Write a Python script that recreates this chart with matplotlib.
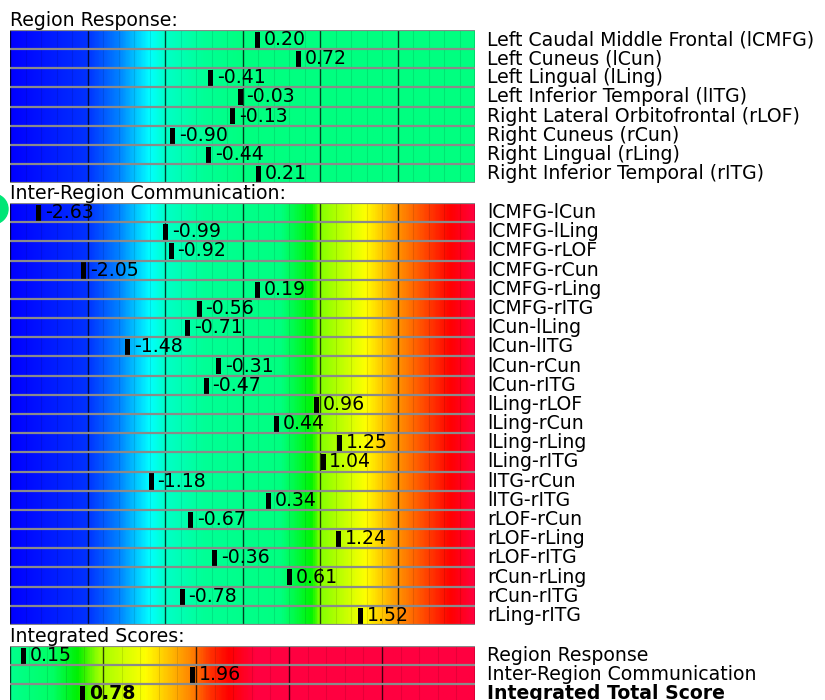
import numpy as np
import matplotlib
matplotlib.use("Agg")
import matplotlib.pyplot as plt
from matplotlib.colors import LinearSegmentedColormap
from matplotlib.patches import Circle
from matplotlib.transforms import IdentityTransform

# data
region_labels = ['Left Caudal Middle Frontal (lCMFG)', 'Left Cuneus (lCun)', 'Left Lingual (lLing)',
                 'Left Inferior Temporal (lITG)', 'Right Lateral Orbitofrontal (rLOF)', 'Right Cuneus (rCun)',
                 'Right Lingual (rLing)', 'Right Inferior Temporal (rITG)']
region_values = [0.20, 0.72, -0.41, -0.03, -0.13, -0.90, -0.44, 0.21]

comm_labels = ['lCMFG-lCun', 'lCMFG-lLing', 'lCMFG-rLOF', 'lCMFG-rCun', 'lCMFG-rLing', 'lCMFG-rITG',
               'lCun-lLing', 'lCun-lITG', 'lCun-rCun', 'lCun-rITG', 'lLing-rLOF', 'lLing-rCun',
               'lLing-rLing', 'lLing-rITG', 'lITG-rCun', 'lITG-rITG', 'rLOF-rCun', 'rLOF-rLing',
               'rLOF-rITG', 'rCun-rLing', 'rCun-rITG', 'rLing-rITG']
comm_values = [-2.63, -0.99, -0.92, -2.05, 0.19, -0.56, -0.71, -1.48, -0.31, -0.47, 0.96, 0.44,
               1.25, 1.04, -1.18, 0.34, -0.67, 1.24, -0.36, 0.61, -0.78, 1.52]

score_labels = ['Region Response', 'Inter-Region Communication', 'Integrated Total Score']
score_values = [0.15, 1.96, 0.78]


def mk_cmap(name, vmin, vmax, stops):
    pts = [((v - vmin) / (vmax - vmin), tuple(c / 255 for c in rgb)) for v, rgb in stops]
    return LinearSegmentedColormap.from_list(name, pts)


cmap_comm = mk_cmap('comm', -3, 3, [(-3, (0, 0, 255)), (-2, (0, 50, 255)), (-1.6, (0, 130, 255)),
                                     (-1.2, (0, 255, 255)), (-1.0, (0, 255, 200)), (-0.5, (0, 255, 150)),
                                     (0.5, (0, 255, 128)), (0.9, (0, 245, 0)), (1.0, (130, 255, 0)),
                                     (1.6, (255, 255, 0)), (2.0, (255, 150, 0)), (2.7, (255, 0, 0)),
                                     (3, (255, 0, 60))])
cmap_region = mk_cmap('region', -3, 3, [(-3, (0, 0, 255)), (-2, (0, 50, 255)), (-1.6, (0, 130, 255)),
                                         (-1.2, (0, 255, 255)), (-1.0, (0, 255, 200)), (-0.5, (0, 255, 150)),
                                         (0.0, (0, 255, 128)), (3, (0, 255, 128))])
cmap_score = mk_cmap('score', 0, 5, [(0, (0, 255, 140)), (0.45, (0, 255, 100)), (0.72, (0, 240, 0)),
                                      (0.95, (160, 255, 0)), (1.45, (255, 255, 0)), (1.95, (255, 130, 0)),
                                      (2.15, (255, 50, 0)), (2.35, (255, 0, 0)), (2.65, (255, 0, 64)),
                                      (5, (255, 0, 64))])

W, H = 825, 700
fs = 13.6
fig = plt.figure(figsize=(W / 100, H / 100), dpi=100)


def section(top, bottom, title, labels, values, cmap, vmin, vmax, bold_last=False):
    n = len(values)
    ax = fig.add_axes([10 / W, 1 - bottom / H, 465 / W, (bottom - top) / H])
    grad = np.linspace(vmin, vmax, 600).reshape(1, -1)
    ax.imshow(grad, cmap=cmap, vmin=vmin, vmax=vmax, aspect='auto', extent=[vmin, vmax, n, 0])
    # cells, 0.2 wide, darker line every unit
    for x in np.arange(vmin, vmax + 1e-9, 0.2):
        major = abs(x - round(x)) < 1e-6
        ax.axvline(x, color='black', lw=1.0 if major else 0.8, alpha=0.75 if major else 0.1)
    ax.hlines(np.arange(n + 1), vmin, vmax, color='#8a8a8a', lw=1.6)
    wid = 5 / 465 * (vmax - vmin)
    for i, (v, lab) in enumerate(zip(values, labels)):
        bold = bold_last and i == n - 1
        ax.bar(v, 0.84, bottom=i + 0.1, width=wid, color='black', align='center')
        ax.annotate(f'{v:.2f}', (v, i + 0.5), xytext=(4.5, 0), textcoords='offset points',
                    va='center', ha='left', fontsize=fs, fontweight='bold' if bold else 'normal')
        ax.text(1 + 12 / 465, i + 0.5, lab, transform=ax.get_yaxis_transform(), va='center', ha='left',
                fontsize=fs, fontweight='bold' if bold else 'normal')
    ax.text(0, 1, title, transform=ax.transAxes, va='bottom', ha='left', fontsize=fs)
    ax.set_xlim(vmin, vmax)
    ax.set_ylim(n, 0)
    ax.axis('off')
    return ax


section(30, 183, 'Region Response:', region_labels, region_values, cmap_region, -3, 3)
section(203, 625, 'Inter-Region Communication:', comm_labels, comm_values, cmap_comm, -3, 3)
section(646, 703, 'Integrated Scores:', score_labels, score_values, cmap_score, 0, 5, bold_last=True)

# stray green disc at the left edge
fig.patches.append(Circle((-7, H - 209), 15, transform=IdentityTransform(), color='#00e676', zorder=5))

fig.savefig('out.png', dpi=100)
